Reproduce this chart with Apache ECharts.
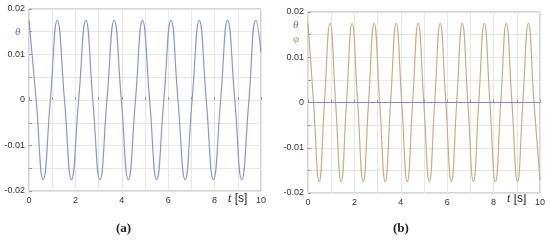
<!DOCTYPE html>
<html>
<head>
<meta charset="utf-8">
<script src="https://cdn.jsdelivr.net/npm/echarts@6/dist/echarts.min.js"></script>
<style>
  html, body { margin: 0; padding: 0; background: #fff; }
  #chart { width: 550px; height: 240px; }
</style>
</head>
<body>
<div id="chart"></div>
<script>
// panel (a): theta, read at peaks / zero crossings / troughs
const timeA = [0, 0.31, 0.61, 0.92, 1.22, 1.53, 1.83, 2.14, 2.45, 2.75, 3.06, 3.36, 3.67, 3.98, 4.28, 4.59, 4.89,
  5.20, 5.50, 5.81, 6.12, 6.42, 6.73, 7.03, 7.34, 7.64, 7.95, 8.26, 8.56, 8.87, 9.17, 9.48, 9.78, 10.0]
const thetaA = [0.0175, 0, -0.0175, 0, 0.0175, 0, -0.0175, 0, 0.0175, 0, -0.0175, 0, 0.0175, 0, -0.0175, 0, 0.0175,
  0, -0.0175, 0, 0.0175, 0, -0.0175, 0, 0.0175, 0, -0.0175, 0, 0.0175, 0, -0.0175, 0, 0.0175, 0.0105]

// panel (b): phi oscillates, theta stays at zero
const timeB = [0, 0.24, 0.48, 0.71, 0.95, 1.19, 1.43, 1.66, 1.90, 2.14, 2.38, 2.61, 2.85, 3.09, 3.33, 3.56, 3.80,
  4.04, 4.28, 4.51, 4.75, 4.99, 5.23, 5.46, 5.70, 5.94, 6.18, 6.41, 6.65, 6.89, 7.13, 7.36, 7.60, 7.84, 8.08,
  8.31, 8.55, 8.79, 9.03, 9.26, 9.50, 9.74, 10.0]
const phiB = [0.0175, 0, -0.0175, 0, 0.0175, 0, -0.0175, 0, 0.0175, 0, -0.0175, 0, 0.0175, 0, -0.0175, 0, 0.0175,
  0, -0.0175, 0, 0.0175, 0, -0.0175, 0, 0.0175, 0, -0.0175, 0, 0.0175, 0, -0.0175, 0, 0.0175, 0, -0.0175,
  0, 0.0175, 0, -0.0175, 0, 0.0175, 0, -0.0172]
const timeBTheta = [0, 10]
const thetaB = [0, 0]

const xTicks = [0, 2, 4, 6, 8, 10]
const yTicks = ['-0.02', '-0.01', '0', '0.01', '0.02']

const zip = (xs, ys) => xs.map((x, i) => [x, ys[i]])

const labelFont = { fontFamily: 'Liberation Sans, Arial, sans-serif', fontSize: 9, color: '#333' }

function xAxisOf(idx) {
  return {
    type: 'value', gridIndex: idx, min: 0, max: 10, interval: 1,
    axisLine: { show: false },
    axisTick: { inside: true, length: 3, lineStyle: { color: '#999' } },
    splitLine: { lineStyle: { color: '#e6e6e6' } },
    axisLabel: Object.assign({ margin: 5, formatter: v => xTicks.indexOf(Math.round(v)) >= 0 && Math.abs(v - Math.round(v)) < 1e-6 ? String(Math.round(v)) : '' }, labelFont)
  }
}

function yAxisOf(idx) {
  return {
    type: 'value', gridIndex: idx, min: -0.02, max: 0.02, interval: 0.005,
    axisLine: { show: false },
    axisTick: { inside: true, length: 3, lineStyle: { color: '#999' } },
    splitLine: { lineStyle: { color: '#e6e6e6' } },
    axisLabel: Object.assign({ margin: 4, formatter: v => {
      const s = Math.abs(v) < 1e-9 ? '0' : v.toFixed(2)
      return yTicks.indexOf(s) >= 0 && Math.round(v * 1000) % 10 === 0 ? s : ''
    } }, labelFont)
  }
}

const chart = echarts.init(document.getElementById('chart'))
chart.setOption({
  animation: false,
  grid: [
    { left: 29, top: 9, width: 232, height: 182, show: true, borderColor: '#aaa', borderWidth: 1 },
    { left: 308, top: 12, width: 232, height: 181, show: true, borderColor: '#aaa', borderWidth: 1 }
  ],
  xAxis: [xAxisOf(0), xAxisOf(1)],
  yAxis: [yAxisOf(0), yAxisOf(1)],
  series: [
    {
      type: 'line', xAxisIndex: 0, yAxisIndex: 0, data: zip(timeA, thetaA),
      smooth: 0.5, showSymbol: false, lineStyle: { color: '#8a94d8', width: 1.2 }
    },
    {
      type: 'line', xAxisIndex: 1, yAxisIndex: 1, data: zip(timeB, phiB),
      smooth: 0.5, showSymbol: false, lineStyle: { color: '#c9ad82', width: 1.2 }
    },
    {
      type: 'line', xAxisIndex: 1, yAxisIndex: 1, data: zip(timeBTheta, thetaB),
      showSymbol: false, lineStyle: { color: '#7f86d6', width: 1.2 }
    }
  ],
  graphic: [
    { type: 'text', left: 15, top: 27, style: { text: 'θ', font: 'italic 11px "Liberation Serif", serif', fill: '#6b6bd0' } },
    { type: 'text', left: 293, top: 20, style: { text: 'θ', font: 'italic 11px "Liberation Serif", serif', fill: '#6b6bd0' } },
    { type: 'text', left: 293, top: 34, style: { text: 'φ', font: 'italic 11px "Liberation Serif", serif', fill: '#b89a6e' } },
    { type: 'text', left: 228, top: 193, style: { text: '{i|t} [s]', rich: { i: { font: 'italic 12px "Liberation Serif", serif', fill: '#222' } }, font: '12px "Liberation Sans", Arial, sans-serif', fill: '#222' } },
    { type: 'text', left: 507, top: 193, style: { text: '{i|t} [s]', rich: { i: { font: 'italic 12px "Liberation Serif", serif', fill: '#222' } }, font: '12px "Liberation Sans", Arial, sans-serif', fill: '#222' } },
    { type: 'text', left: 116, top: 222, style: { text: '(a)', font: 'bold 13px "Liberation Serif", serif', fill: '#222' } },
    { type: 'text', left: 393, top: 222, style: { text: '(b)', font: 'bold 13px "Liberation Serif", serif', fill: '#222' } }
  ]
})
</script>
</body>
</html>
